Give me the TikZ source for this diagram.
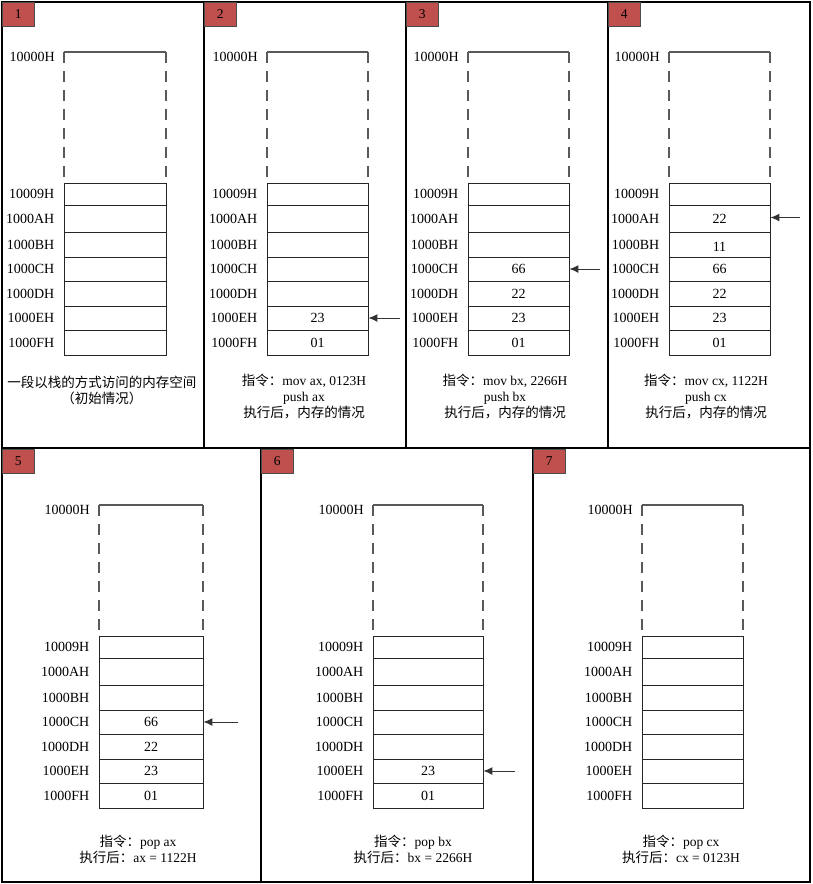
\documentclass[tikz,border=0pt]{standalone}
\usepackage{fontspec}
\setmainfont{Liberation Serif}
\newfontfamily\cjk{Noto Sans CJK SC}
\usetikzlibrary{positioning,arrows.meta}
\definecolor{tagred}{RGB}{192,80,77}
\newcommand{\zh}[1]{{\cjk #1}}
% one stack of memory cells: #1 panel, #2 left, #3 right, #4 top
\newcommand{\memstack}[4]{%
    \draw[topline] (#2,#4) -- (#3,#4);
    \draw[dashline] (#2,#4) -- (#2,#4+131);
    \draw[dashline] (#3,#4) -- (#3,#4+131);
    \node[addr, anchor=east] (top#1) at (#2-9,#4+5) {10000H};
    \foreach \lab/\ya/\yb in {9/131/153,A/153/180,B/180/205,C/205/229,D/229/254,E/254/278,F/278/303}{
        \node[cell, minimum width={(#3-#2)*1pt}, minimum height={(\yb-\ya)*1pt}] (c#1-\lab) at ({(#2+#3)/2},{#4+(\ya+\yb)/2}) {};
        \node[addr, left=9pt of c#1-\lab.west] (l#1-\lab) {1000\lab H};
    }%
}

\begin{document}
\begin{tikzpicture}[x=1pt, y=-1pt,
    frame/.style={draw, line width=1.2pt},
    tag/.style={draw=black!70, fill=tagred, anchor=north west, minimum width=32pt, minimum height=24pt, inner sep=0pt, font=\fontsize{13.5}{16}\selectfont},
    cell/.style={draw=black!85, line width=0.9pt, rectangle, inner sep=0pt},
    topline/.style={draw=black!65, line width=1.2pt},
    dashline/.style={draw=black!65, line width=1.2pt, dash pattern=on 11pt off 8pt},
    addr/.style={inner sep=0pt, font=\fontsize{14}{16}\selectfont},
    val/.style={inner sep=0pt, font=\fontsize{14}{16}\selectfont},
    note/.style={align=center, inner sep=0pt, font=\fontsize{13.5}{16}\selectfont},
    ptr/.style={draw=black!80, line width=1pt, -{Latex[length=9pt,width=8pt]}}]
    \useasboundingbox (0,0) rectangle (812,884);

    % Frames
    \draw[frame] (2,2) rectangle (204,448);
    \draw[frame] (204,2) rectangle (406,448);
    \draw[frame] (406,2) rectangle (608,448);
    \draw[frame] (608,2) rectangle (810,448);
    \draw[frame] (2,448) rectangle (261,882);
    \draw[frame] (261,448) rectangle (533,882);
    \draw[frame] (533,448) rectangle (810,882);

    \node[tag] (tag1) at (2,2) {1};
    \node[tag] (tag2) at (204,2) {2};
    \node[tag] (tag3) at (406,2) {3};
    \node[tag] (tag4) at (608,2) {4};
    \node[tag] (tag5) at (2,449) {5};
    \node[tag] (tag6) at (261,449) {6};
    \node[tag] (tag7) at (533,449) {7};

    % First row
    \memstack{1}{64}{166}{52}
    \node[note] (note1) at (102,390) {\zh{一段以栈的方式访问的内存空间}\\\zh{（初始情况）}};

    \memstack{2}{267}{368}{52}
    \node[val] (v2-E) at (c2-E) {23};
    \node[val] (v2-F) at (c2-F) {01};
    \coordinate (p2) at ([xshift=32pt]c2-E.east);
    \draw[ptr] (p2) -- (c2-E.east);
    \node[note] (note2) at (304,397) {\zh{指令：}mov ax, 0123H\\push ax\\\zh{执行后，内存的情况}};

    \memstack{3}{468}{569}{52}
    \node[val] (v3-C) at (c3-C) {66};
    \node[val] (v3-D) at (c3-D) {22};
    \node[val] (v3-E) at (c3-E) {23};
    \node[val] (v3-F) at (c3-F) {01};
    \coordinate (p3) at ([xshift=31pt]c3-C.east);
    \draw[ptr] (p3) -- (c3-C.east);
    \node[note] (note3) at (505,397) {\zh{指令：}mov bx, 2266H\\push bx\\\zh{执行后，内存的情况}};

    \memstack{4}{669}{770}{52}
    \node[val] (v4-A) at (c4-A) {22};
    \node[val] (v4-B) at ([yshift=-2pt]c4-B) {11};
    \node[val] (v4-C) at (c4-C) {66};
    \node[val] (v4-D) at (c4-D) {22};
    \node[val] (v4-E) at (c4-E) {23};
    \node[val] (v4-F) at (c4-F) {01};
    \coordinate (p4) at ([xshift=30pt,yshift=1pt]c4-A.east);
    \draw[ptr] (p4) -- ([yshift=1pt]c4-A.east);
    \node[note] (note4) at (706,397) {\zh{指令：}mov cx, 1122H\\push cx\\\zh{执行后，内存的情况}};

    % Second row
    \memstack{5}{99}{203}{505}
    \node[val] (v5-C) at (c5-C) {66};
    \node[val] (v5-D) at (c5-D) {22};
    \node[val] (v5-E) at (c5-E) {23};
    \node[val] (v5-F) at (c5-F) {01};
    \coordinate (p5) at ([xshift=35pt]c5-C.east);
    \draw[ptr] (p5) -- (c5-C.east);
    \node[note] (note5) at (138,849.5) {\zh{指令：}pop ax\\\zh{执行后：}ax = 1122H};

    \memstack{6}{373}{483}{505}
    \node[val] (v6-E) at (c6-E) {23};
    \node[val] (v6-F) at (c6-F) {01};
    \coordinate (p6) at ([xshift=32pt]c6-E.east);
    \draw[ptr] (p6) -- (c6-E.east);
    \node[note] (note6) at (413,849.5) {\zh{指令：}pop bx\\\zh{执行后：}bx = 2266H};

    \memstack{7}{642}{743}{505}
    \node[note] (note7) at (681,849.5) {\zh{指令：}pop cx\\\zh{执行后：}cx = 0123H};

\end{tikzpicture}
\end{document}
